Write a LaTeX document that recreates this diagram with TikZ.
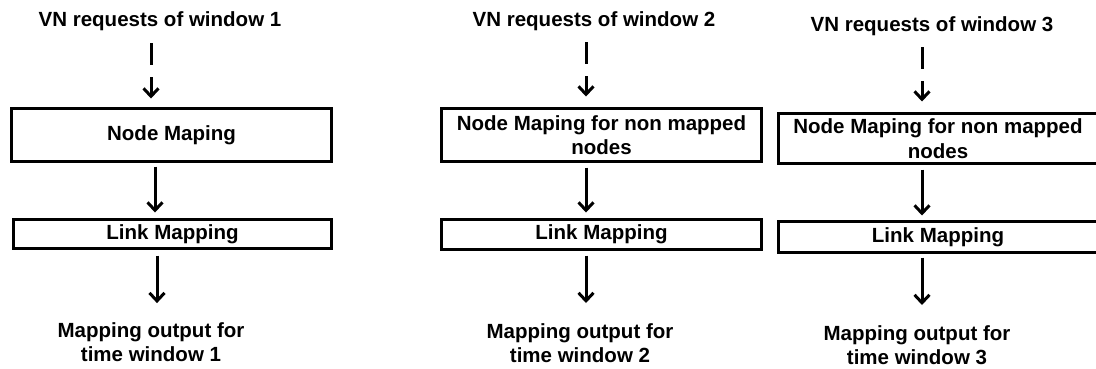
\documentclass[tikz,border=0pt]{standalone}
\usepackage{fontspec}
\setmainfont{Liberation Sans}
\usetikzlibrary{arrows.meta}
\begin{document}
\begin{tikzpicture}[x=1pt,y=-1pt,
  txt/.style={font=\bfseries\fontsize{20.5}{24.6}\selectfont, inner sep=0pt, align=center},
  procbox/.style={txt, draw, line width=3pt, rectangle},
  arr/.style={line width=3pt, -{Straight Barb[length=8pt,width=15pt]}},
  dasharr/.style={arr, dash pattern=on 22pt off 12pt}]
\useasboundingbox (0,0) rectangle (1096,368);
% coordinates giving the x of the arrows
\coordinate (xa1) at (151,0);
\coordinate (xb1) at (155,0);
\coordinate (xc1) at (157,0);
\coordinate (x2) at (586,0);
\coordinate (x3) at (922,0);
% column 1
\node[txt, anchor=base] (t1) at (160,26) {VN requests of window 1};
\node[procbox, minimum width=320pt, minimum height=53pt] (n1) at (171.5,135) {Node Maping};
\node[procbox, minimum width=318pt, minimum height=29pt] (l1) at (172.5,234) {Link Mapping};
\node[txt, anchor=north] (o1) at (151,322.1) {Mapping output for\\time window 1};
% column 2
\node[txt, anchor=base] (t2) at (594,26) {VN requests of window 2};
\node[procbox, minimum width=320pt, minimum height=53pt] (n2) at (601.5,135) {Node Maping for non mapped\\nodes};
\node[procbox, minimum width=320pt, minimum height=30pt] (l2) at (601.5,234.5) {Link Mapping};
\node[txt, anchor=north] (o2) at (580,323) {Mapping output for\\time window 2};
% column 3
\node[txt, anchor=base] (t3) at (932,31.5) {VN requests of window 3};
\node[procbox, minimum width=319pt, minimum height=50pt] (n3) at (938,138.5) {Node Maping for non mapped\\nodes};
\node[procbox, minimum width=319pt, minimum height=31pt] (l3) at (938,237) {Link Mapping};
\node[txt, anchor=north] (o3) at (917,325) {Mapping output for\\time window 3};
% connectors column 1
\draw[dasharr, shorten <=12.7pt, shorten >=8.5pt] (t1.south -| xa1) -- (n1.north -| xa1);
\draw[arr, shorten <=3.5pt, shorten >=5.5pt] (n1.south -| xb1) -- (l1.north -| xb1);
\draw[arr, shorten <=5.5pt, shorten >=19pt] (l1.south -| xc1) -- (o1.north -| xc1);
% connectors column 2
\draw[dasharr, shorten <=11.7pt, shorten >=10.5pt] (t2.south -| x2) -- (n2.north -| x2);
\draw[arr, shorten <=4.5pt, shorten >=5.5pt] (n2.south -| x2) -- (l2.north -| x2);
\draw[arr, shorten <=4.5pt, shorten >=20pt] (l2.south -| x2) -- (o2.north -| x2);
% connectors column 3
\draw[dasharr, shorten <=11.2pt, shorten >=10.5pt] (t3.south -| x3) -- (n3.north -| x3);
\draw[arr, shorten <=4.5pt, shorten >=4.5pt] (n3.south -| x3) -- (l3.north -| x3);
\draw[arr, shorten <=3.5pt, shorten >=20pt] (l3.south -| x3) -- (o3.north -| x3);
\end{tikzpicture}
\end{document}
